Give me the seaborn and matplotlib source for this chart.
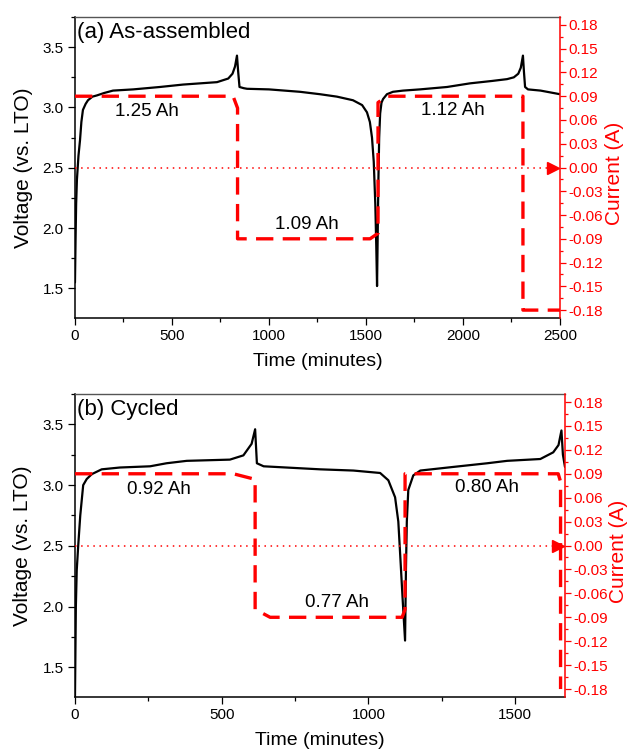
import numpy as np
import pandas as pd
import seaborn as sns
import matplotlib.pyplot as plt
import matplotlib.transforms as mtrans
from matplotlib.ticker import MultipleLocator, FuncFormatter

sns.set_style("ticks")
plt.rcParams['font.family'] = ['Liberation Sans', 'DejaVu Sans']
plt.rcParams['axes.unicode_minus'] = False
plt.rcParams['text.color'] = 'black'
plt.rcParams['axes.labelcolor'] = 'black'
plt.rcParams['xtick.color'] = 'black'
plt.rcParams['ytick.color'] = 'black'

## (a) as-assembled cell : voltage trace
t_a = [0, 3, 6, 10, 18, 26, 33, 41, 55, 67, 90, 113, 150, 196, 300, 438, 557, 732,
       790, 812, 825, 835, 841, 848, 870, 887, 1000, 1160, 1263, 1350, 1433, 1480,
       1505, 1520, 1531, 1540, 1548, 1553, 1557, 1560, 1564, 1568, 1573, 1580, 1588,
       1608, 1639, 1691, 1778, 1918, 2036, 2150, 2227, 2262, 2285, 2298, 2309, 2314,
       2320, 2335, 2400, 2500]
v_a = [1.55, 1.9, 2.2, 2.4, 2.6, 2.73, 2.88, 2.98, 3.03, 3.06, 3.09, 3.10, 3.12, 3.14,
       3.15, 3.17, 3.19, 3.21, 3.24, 3.28, 3.34, 3.43, 3.30, 3.17, 3.16, 3.155, 3.15,
       3.13, 3.11, 3.09, 3.06, 3.02, 2.96, 2.88, 2.75, 2.55, 2.2, 1.85, 1.52, 1.9, 2.4,
       2.75, 2.95, 3.04, 3.07, 3.11, 3.13, 3.14, 3.15, 3.17, 3.20, 3.22, 3.235, 3.25,
       3.28, 3.33, 3.43, 3.30, 3.17, 3.15, 3.14, 3.11]
## (a) current trace
ti_a = [0, 815, 838, 838, 1521, 1562, 1562, 1608, 2309, 2309, 2500]
i_a = [0.09, 0.09, 0.075, -0.09, -0.09, -0.083, 0.082, 0.09, 0.09, -0.18, -0.18]
cap_a = ['1.25 Ah', '1.09 Ah', '1.12 Ah']

## (b) cycled cell : voltage trace
t_b = [0, 3, 6, 11, 18, 28, 40, 57, 91, 153, 256, 312, 381, 528, 574, 602, 614, 620,
       643, 836, 949, 1040, 1068, 1091, 1102, 1109, 1117, 1125, 1128, 1131, 1136, 1153,
       1177, 1290, 1405, 1473, 1586, 1630, 1648, 1658, 1663, 1670]
v_b = [1.25, 2.0, 2.3, 2.5, 2.75, 3.0, 3.05, 3.09, 3.13, 3.145, 3.155, 3.18, 3.20,
       3.21, 3.245, 3.34, 3.46, 3.18, 3.155, 3.13, 3.12, 3.10, 3.04, 2.90, 2.70, 2.40,
       2.05, 1.72, 2.3, 2.7, 2.96, 3.08, 3.12, 3.15, 3.18, 3.20, 3.215, 3.27, 3.33,
       3.45, 3.25, 3.15]
## (b) current trace
ti_b = [0, 540, 614, 614, 665, 1115, 1125, 1125, 1647, 1655, 1655]
i_b = [0.09, 0.09, 0.083, -0.08, -0.09, -0.09, -0.08, 0.09, 0.09, 0.08, -0.18]
cap_b = ['0.92 Ah', '0.77 Ah', '0.80 Ah']

RED = '#ff0000'


def draw_panel(ax, tv, v, ti, cur, title, caps, cap_pos, xmax, rlab_x):
    sns.lineplot(x=tv, y=v, ax=ax, color='black', lw=1.6, estimator=None, sort=False)
    ax2 = ax.twinx()
    sns.lineplot(x=ti, y=cur, ax=ax2, color=RED, lw=2.4, linestyle=(0, (5.2, 2.8)),
                 estimator=None, sort=False)
    ## zero-current reference with arrow to right axis
    ax2.axhline(0, xmax=0.985, color=RED, lw=1.1, linestyle=(0, (1, 3)))
    tr = mtrans.blended_transform_factory(ax2.transAxes, ax2.transData)
    ax2.plot([0.986], [0], marker='>', ms=9, color=RED, transform=tr, clip_on=False)

    ax.set_xlim(0, xmax)
    ax.set_ylim(1.255, 3.75)
    ax2.set_ylim(-0.19, 0.19)

    ax.xaxis.set_major_locator(MultipleLocator(500))
    ax.xaxis.set_minor_locator(MultipleLocator(250))
    ax.yaxis.set_major_locator(MultipleLocator(0.5))
    ax.yaxis.set_minor_locator(MultipleLocator(0.25))
    ax.yaxis.set_major_formatter(FuncFormatter(lambda x, p: '%.1f' % x))
    ax2.yaxis.set_major_locator(MultipleLocator(0.03))
    ax2.yaxis.set_minor_locator(MultipleLocator(0.015))
    ax2.yaxis.set_major_formatter(FuncFormatter(lambda x, p: '%.2f' % (0 if abs(x) < 1e-9 else x)))

    ax.tick_params(which='major', direction='out', length=5, width=0.9, labelsize=11, pad=3)
    ax.tick_params(which='minor', direction='out', length=3, width=0.9)
    ax.tick_params(axis='y', right=False)
    ax2.tick_params(which='major', direction='out', length=4, width=0.9, labelsize=11,
                    colors=RED, pad=2)
    ax2.tick_params(which='minor', direction='out', length=2.5, width=0.9, colors=RED)

    for s in ['left', 'bottom']:
        ax.spines[s].set_linewidth(1.1)
        ax.spines[s].set_color('black')
    ax.spines['top'].set_color('#555555')
    ax.spines['top'].set_linewidth(1.0)
    ax.spines['right'].set_visible(False)
    for s in ['left', 'bottom', 'top']:
        ax2.spines[s].set_visible(False)
    ax2.spines['right'].set_color(RED)
    ax2.spines['right'].set_linewidth(1.1)

    ax.set_xlabel('Time (minutes)', fontsize=14)
    ax.set_ylabel('Voltage (vs. LTO)', fontsize=15)
    ax2.set_ylabel('Current (A)', fontsize=15, color=RED)
    ax.xaxis.set_label_coords(0.5, -0.115)
    ax.yaxis.set_label_coords(-0.087, 0.5)
    ax2.yaxis.set_label_coords(rlab_x, 0.48)

    ax.text(0.004, 0.985, title, transform=ax.transAxes, ha='left', va='top', fontsize=16)
    for lab, (x, y) in zip(caps, cap_pos):
        ax.text(x, y, lab, ha='center', va='center', fontsize=13.5)


fig = plt.figure(figsize=(6.29, 7.49), dpi=100)
ax_a = fig.add_axes([0.1192, 0.5754, 0.7711, 0.4019])
ax_b = fig.add_axes([0.1192, 0.0694, 0.7790, 0.4045])

draw_panel(ax_a, t_a, v_a, ti_a, i_a, '(a) As-assembled', cap_a,
           [(371, 2.97), (1196, 2.03), (1946, 2.975)], 2500, 1.093)
draw_panel(ax_b, t_b, v_b, ti_b, i_b, '(b) Cycled', cap_b,
           [(285, 2.96), (892, 2.03), (1405, 2.98)], 1670, 1.090)

fig.savefig('out.png', dpi=100)
